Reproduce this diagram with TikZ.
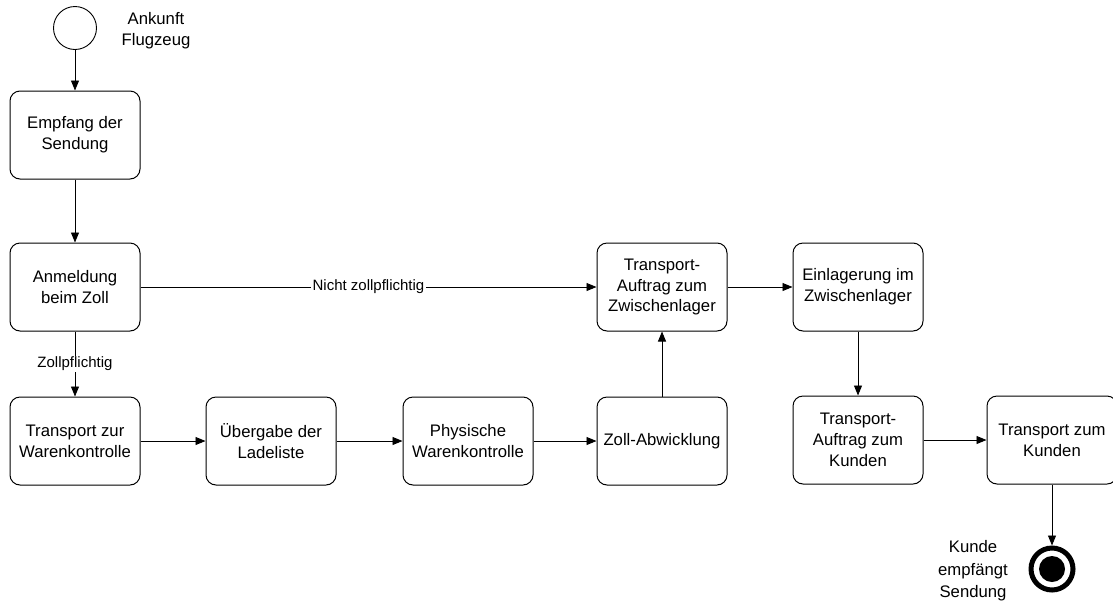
\documentclass[tikz,border=0pt]{standalone}
\usepackage{fontspec}
\setmainfont{Liberation Sans}
\usetikzlibrary{arrows.meta}
\begin{document}
\begin{tikzpicture}[x=1pt,y=-1pt,
  every node/.style={font=\fontsize{16.7}{20.8}\selectfont},
  activity/.style={draw, line width=1pt, rounded corners=10pt, minimum width=130pt,
    minimum height=88pt, align=center, inner sep=2pt, fill=white},
  flow/.style={draw, line width=0.9pt, -{Triangle[length=10pt,width=8pt]}},
  flowlabel/.style={fill=white, inner sep=1.5pt, font=\fontsize{15}{18}\selectfont},
  plaintext/.style={align=center, inner sep=0pt}]
\useasboundingbox (0,0) rectangle (1113,603);
\clip (0,0) rectangle (1113,603);

% start and end events
\node[draw, circle, line width=0.9pt, minimum size=43pt, inner sep=0pt] (start) at (75,28) {};
\node[plaintext] (startlbl) at (156,31) {Ankunft\\Flugzeug};

\node[circle, draw, line width=5pt, minimum size=42pt, inner sep=0pt] (end) at (1052,569) {};
\node[circle, fill=black, minimum size=26pt, inner sep=0pt] (endcore) at (1052,569) {};
\node[plaintext, font=\fontsize{16.7}{22.5}\selectfont] (endlbl) at (973,571) {Kunde\\empfängt\\Sendung};

% activities
\node[activity] (empfang) at (75,135) {Empfang der\\Sendung};
\node[activity] (anmeldung) at (75,287) {Anmeldung\\beim Zoll};
\node[activity] (transportwk) at (75,441) {Transport zur\\Warenkontrolle};
\node[activity] (uebergabe) at (271,441) {Übergabe der\\Ladeliste};
\node[activity] (physisch) at (468,441) {Physische\\Warenkontrolle};
\node[activity] (zoll) at (662,441) {Zoll-Abwicklung};
\node[activity] (auftragzw) at (662,287) {Transport-\\Auftrag zum\\Zwischenlager};
\node[activity] (einlagerung) at (858,287) {Einlagerung im\\Zwischenlager};
\node[activity] (auftragkd) at (858,440) {Transport-\\Auftrag zum\\Kunden};
\node[activity] (transportkd) at (1052,440) {Transport zum\\Kunden};

% connectors
\draw[flow] (start) -- (empfang);
\draw[flow] (empfang) -- (anmeldung);
\draw[flow] (anmeldung) -- node[flowlabel] {Nicht zollpflichtig} (auftragzw);
\draw[flow] (anmeldung) -- node[flowlabel] {Zollpflichtig} (transportwk);
\draw[flow] (transportwk) -- (uebergabe);
\draw[flow] (uebergabe) -- (physisch);
\draw[flow] (physisch) -- (zoll);
\draw[flow] (zoll) -- (auftragzw);
\draw[flow] (auftragzw) -- (einlagerung);
\draw[flow] (einlagerung) -- (auftragkd);
\draw[flow] (auftragkd) -- (transportkd);
\draw[flow] (transportkd.south) -- (end.north);
\end{tikzpicture}
\end{document}
